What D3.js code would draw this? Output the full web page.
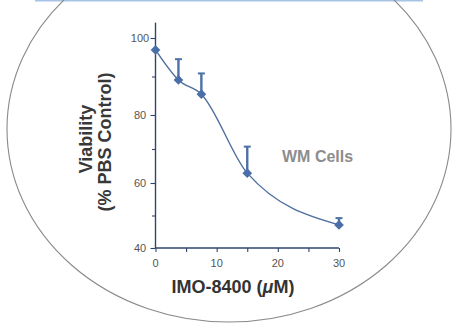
<!DOCTYPE html>
<html>
<head>
<meta charset="utf-8">
<script src="https://cdn.jsdelivr.net/npm/d3@7"></script>
<style>
  body { margin: 0; background: #fff; }
  svg { display: block; font-family: "Liberation Sans", Arial, sans-serif; }
</style>
</head>
<body>
<div id="chart"></div>
<script>
// data
const doses = [0, 3.75, 7.5, 15, 30];            // IMO-8400 (uM)
const viability = [96.9, 89.1, 85.4, 62.9, 47.1]; // % PBS control
const errUpper = [null, 94.5, 90.8, 70.7, 49.2];  // top of error bar (none visible at 0)
const xTicks = [0, 10, 20, 30];
const yTicks = [40, 60, 80, 100];

const width = 452, height = 324;

const svg = d3.select("#chart").append("svg")
  .attr("width", width)
  .attr("height", height);

// blue strip at the very top
svg.append("rect")
  .attr("x", 35).attr("y", -1)
  .attr("width", 388).attr("height", 2.5)
  .attr("fill", "#a7c3e6");

// big oval frame
svg.append("ellipse")
  .attr("cx", 229).attr("cy", 129)
  .attr("rx", 222).attr("ry", 193)
  .attr("fill", "none")
  .attr("stroke", "#8a8a8a")
  .attr("stroke-width", 1.1);

const x = d3.scaleLinear().domain([0, 30]).range([155.5, 339]);
// axis spacing in the source image is slightly uneven, so use a piecewise scale
const y = d3.scaleLinear().domain([40, 60, 80, 100, 104]).range([248, 183, 115, 38, 22.6]);

const axisColor = "#2f4470";

// y axis
const yAxis = svg.append("g")
  .attr("transform", `translate(${x(0)},0)`)
  .call(d3.axisLeft(y).tickValues(d3.range(40, 101, 10)).tickSize(5).tickFormat(""));
yAxis.select(".domain").attr("d", `M0,${y(104)}V${y(40)}`).attr("stroke", axisColor).attr("stroke-width", 1.4);
yAxis.selectAll(".tick line").attr("stroke", axisColor).attr("stroke-width", 1.1)
  .attr("x2", d => yTicks.includes(d) ? -5 : -3.5);

svg.append("g").selectAll("text")
  .data(yTicks)
  .enter().append("text")
  .attr("x", 140)
  .attr("y", d => y(d))
  .attr("dy", "0.35em")
  .attr("text-anchor", "middle")
  .attr("font-size", 11)
  .attr("fill", "#555")
  .text(d => d);

// x axis
const xAxis = svg.append("g")
  .attr("transform", `translate(0,${y(40)})`)
  .call(d3.axisBottom(x).tickValues(d3.range(0, 31, 5)).tickSize(4).tickFormat(""));
xAxis.select(".domain").attr("d", `M${x(0)},0H${x(30)}`).attr("stroke", axisColor).attr("stroke-width", 1.4);
xAxis.selectAll(".tick line").attr("stroke", axisColor).attr("stroke-width", 1.1);

svg.append("g").selectAll("text")
  .data(xTicks)
  .enter().append("text")
  .attr("x", d => x(d))
  .attr("y", 266.5)
  .attr("text-anchor", "middle")
  .attr("font-size", 11)
  .attr("fill", "#555")
  .text(d => d);

// error bars (upper only)
const barColor = "#4d70a6";
const pts = doses.map((d, i) => ({ dose: d, v: viability[i], hi: errUpper[i] }));
const withErr = pts.filter(d => d.hi != null);

svg.append("g").selectAll("line")
  .data(withErr)
  .enter().append("line")
  .attr("x1", d => x(d.dose)).attr("x2", d => x(d.dose))
  .attr("y1", d => y(d.v)).attr("y2", d => y(d.hi))
  .attr("stroke", barColor)
  .attr("stroke-width", 2.4);

svg.append("g").selectAll("line")
  .data(withErr)
  .enter().append("line")
  .attr("x1", d => x(d.dose) - 3.5).attr("x2", d => x(d.dose) + 3.5)
  .attr("y1", d => y(d.hi)).attr("y2", d => y(d.hi))
  .attr("stroke", barColor)
  .attr("stroke-width", 2);

// smooth curve
const line = d3.line()
  .x(d => x(d.dose))
  .y(d => y(d.v))
  .curve(d3.curveMonotoneX);

svg.append("path")
  .datum(pts)
  .attr("d", line)
  .attr("fill", "none")
  .attr("stroke", "#4f6f9f")
  .attr("stroke-width", 1.4);

// diamond markers
svg.append("g").selectAll("path")
  .data(pts)
  .enter().append("path")
  .attr("d", d3.symbol().type(d3.symbolDiamond2).size(60))
  .attr("transform", d => `translate(${x(d.dose)},${y(d.v)})`)
  .attr("fill", "#4a6fa8");

// labels
svg.append("text")
  .attr("x", 282)
  .attr("y", 161.5)
  .attr("font-size", 16)
  .attr("font-weight", "bold")
  .attr("fill", "#8d8d8d")
  .text("WM Cells");

const xTitle = svg.append("text")
  .attr("x", 233)
  .attr("y", 293)
  .attr("text-anchor", "middle")
  .attr("font-size", 18)
  .attr("font-weight", "bold")
  .attr("fill", "#333");
xTitle.append("tspan").text("IMO-8400 (");
xTitle.append("tspan").attr("font-style", "italic").text("\u03bc");
xTitle.append("tspan").text("M)");

svg.append("text")
  .attr("transform", "translate(92,139) rotate(-90)")
  .attr("text-anchor", "middle")
  .attr("font-size", 18)
  .attr("font-weight", "bold")
  .attr("fill", "#383838")
  .text("Viability");

svg.append("text")
  .attr("transform", "translate(111,142) rotate(-90)")
  .attr("text-anchor", "middle")
  .attr("font-size", 18)
  .attr("font-weight", "bold")
  .attr("fill", "#383838")
  .text("(% PBS Control)");
</script>
</body>
</html>
